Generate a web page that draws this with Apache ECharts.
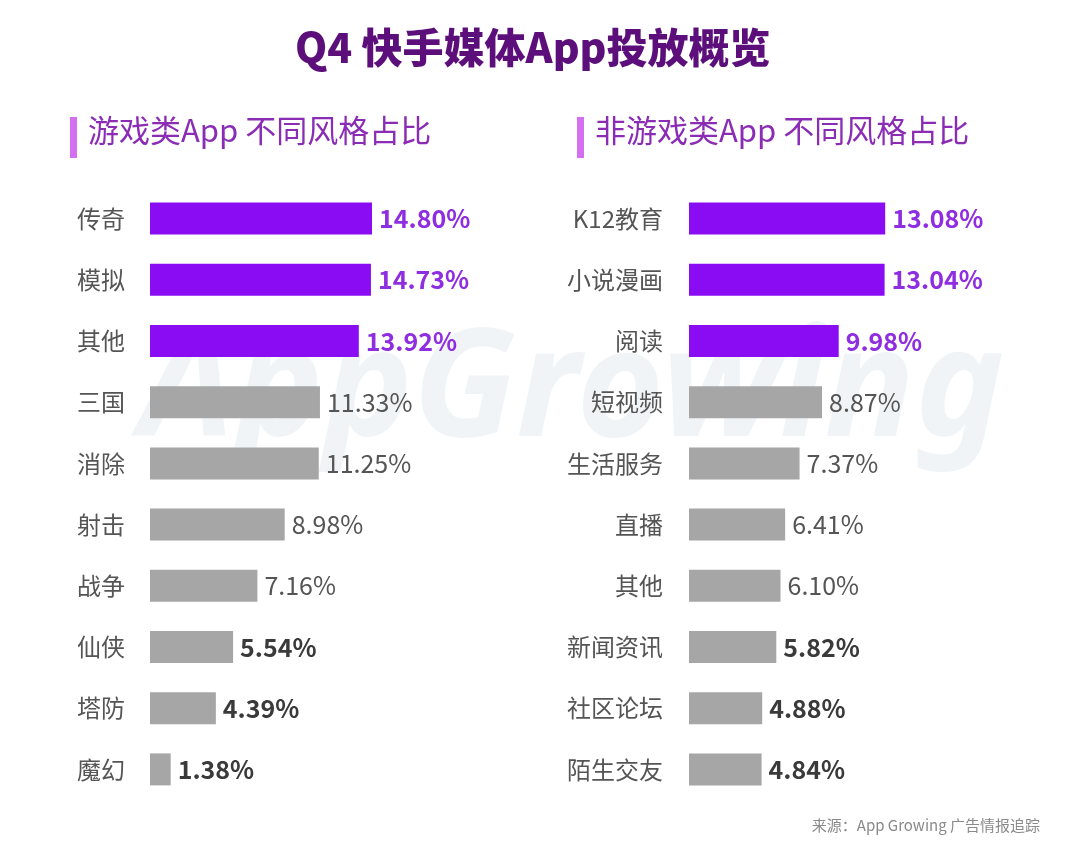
<!DOCTYPE html>
<html><head><meta charset="utf-8">
<script src="https://cdn.jsdelivr.net/npm/echarts@6/dist/echarts.min.js"></script>
<style>html,body{margin:0;padding:0;background:#fff}#c{width:1080px;height:843px}</style>
</head><body><div id="c"></div>
<script>
const leftCats = ['传奇','模拟','其他','三国','消除','射击','战争','仙侠','塔防','魔幻'];
const leftVals = [14.80,14.73,13.92,11.33,11.25,8.98,7.16,5.54,4.39,1.38];
const rightCats = ['K12教育','小说漫画','阅读','短视频','生活服务','直播','其他','新闻资讯','社区论坛','陌生交友'];
const rightVals = [13.08,13.04,9.98,8.87,7.37,6.41,6.10,5.82,4.88,4.84];

const FONT = '"Noto Sans CJK SC","Noto Sans",sans-serif';
const PURPLE_BAR = '#8a0cf3', PURPLE_TXT = '#8f2de0', GRAY_BAR = '#a6a6a6';

function makeData(vals){
  return vals.map((v,i)=>{
    let barColor = GRAY_BAR, lc = '#555', fw = 'normal';
    if(i<3){ barColor = PURPLE_BAR; lc = PURPLE_TXT; fw = 'bold'; }
    else if(i>=vals.length-3){ lc = '#3a3a3a'; fw = 'bold'; }
    return {value:v, itemStyle:{color:barColor}, label:{color:lc, fontWeight:fw}};
  });
}

const chart = echarts.init(document.getElementById('c'));
const gridTop = 188, gridH = 612;
chart.setOption({
  animation:false,
  textStyle:{fontFamily:FONT},
  title:{text:'Q4 快手媒体App投放概览', left:290, top:22,
    textStyle:{fontSize:41, fontWeight:900, color:'#5c0f7a', fontFamily:FONT}},
  graphic:[
    {type:'text', left:140, top:318, z:0, silent:true,
      style:{text:'AppGrowing', font:'italic bold 150px "Noto Sans", sans-serif', fill:'rgba(205,214,228,0.28)'}},
    {type:'rect', shape:{x:70,y:117,width:7,height:41}, style:{fill:'#d46ff2'}},
    {type:'text', left:88, top:115, style:{text:'游戏类App 不同风格占比', font:'31px '+FONT, fill:'#8a2db4'}},
    {type:'rect', shape:{x:577,y:117,width:7,height:41}, style:{fill:'#d46ff2'}},
    {type:'text', left:595, top:115, style:{text:'非游戏类App 不同风格占比', font:'31px '+FONT, fill:'#8a2db4'}},
    {type:'text', right:40, top:818, style:{text:'来源：App Growing 广告情报追踪', font:'15px '+FONT, fill:'#8a8a8a'}}
  ],
  grid:[
    {left:150, top:gridTop, width:300, height:gridH},
    {left:689, top:gridTop, width:300, height:gridH}
  ],
  xAxis:[
    {gridIndex:0, type:'value', min:0, max:20, show:false},
    {gridIndex:1, type:'value', min:0, max:20, show:false}
  ],
  yAxis:[
    {gridIndex:0, type:'category', data:leftCats, inverse:true,
      axisLine:{show:false}, axisTick:{show:false}, splitLine:{show:false},
      axisLabel:{fontSize:24, color:'#555', margin:25, fontFamily:FONT}},
    {gridIndex:1, type:'category', data:rightCats, inverse:true,
      axisLine:{show:false}, axisTick:{show:false}, splitLine:{show:false},
      axisLabel:{fontSize:24, color:'#555', margin:26, fontFamily:FONT}}
  ],
  series:[
    {type:'bar', xAxisIndex:0, yAxisIndex:0, data:makeData(leftVals), barWidth:32, z:2,
      label:{show:true, position:'right', distance:7, fontSize:25, fontFamily:FONT,
        formatter:p=>p.value.toFixed(2)+'%'}},
    {type:'bar', xAxisIndex:1, yAxisIndex:1, data:makeData(rightVals), barWidth:32, z:2,
      label:{show:true, position:'right', distance:7, fontSize:25, fontFamily:FONT,
        formatter:p=>p.value.toFixed(2)+'%'}}
  ]
});
</script></body></html>
